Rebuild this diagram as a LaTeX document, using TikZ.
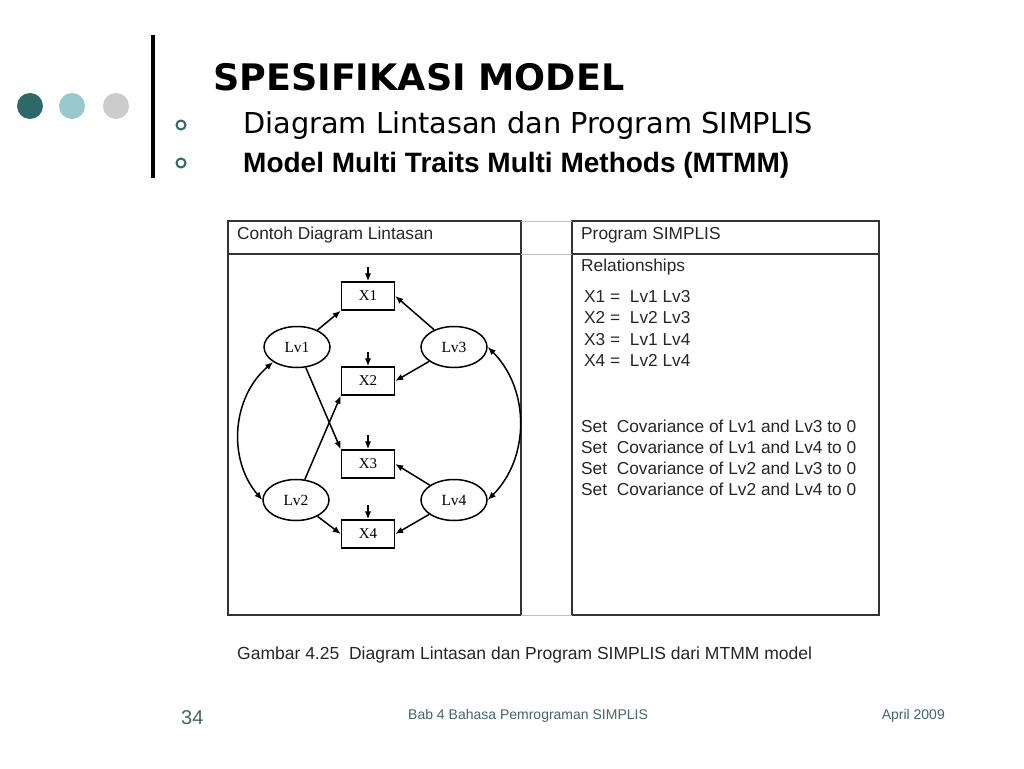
\documentclass[tikz,border=0pt]{standalone}
\usepackage{fontspec}
\setmainfont{Liberation Sans}
\newfontfamily\headfont{DejaVu Sans}
\newfontfamily\pathfont{Liberation Serif}
\usetikzlibrary{positioning, shapes.geometric, arrows.meta}
\definecolor{darkteal}{RGB}{47,104,104}
\definecolor{lightteal}{RGB}{150,200,204}
\definecolor{dotgray}{RGB}{204,204,204}
\definecolor{footgray}{RGB}{72,100,100}

\begin{document}
\begin{tikzpicture}[x=1pt, y=-1pt, >={Latex[length=8pt,width=6.5pt]},
  lat/.style={ellipse, draw, line width=1.5pt, minimum width=66pt, minimum height=41pt, inner sep=0pt, font=\pathfont\fontsize{15.5}{17}\selectfont},
  obs/.style={rectangle, draw, line width=1.5pt, minimum width=53pt, minimum height=28pt, inner sep=0pt, font=\pathfont\fontsize{15}{17}\selectfont},
  txt/.style={anchor=base west, inner sep=0pt, text=black!85, font=\fontsize{17.3}{20}\selectfont},
  panel/.style={draw=black!80, line width=1.4pt}]
  \useasboundingbox (0,0) rectangle (1024,768);
  \fill[white] (0,0) rectangle (1024,768);

  % slide decoration
  \fill[darkteal] (30,106) circle (13pt);
  \fill[lightteal] (72,106) circle (13pt);
  \fill[dotgray] (116,106) circle (13pt);
  \draw[line width=4pt] (153,35) -- (153,178);
  \draw[darkteal, line width=2pt] (181,125) circle (4.5pt);
  \draw[darkteal, line width=2pt] (181,163) circle (4.5pt);

  \node[anchor=base west, inner sep=0pt, font=\headfont\bfseries\fontsize{36.5}{40}\selectfont] (judul) at (213,90) {SPESIFIKASI MODEL};
  \node[anchor=base west, inner sep=0pt, font=\headfont\fontsize{28.8}{32}\selectfont] (sub1) at (243,133) {Diagram Lintasan dan Program SIMPLIS};
  \node[anchor=base west, inner sep=0pt, font=\bfseries\fontsize{28}{32}\selectfont] (sub2) at (243,172) {Model Multi Traits Multi Methods (MTMM)};

  % panels
  \draw[panel] (228,221) rectangle (521,615);
  \draw[panel] (228,254) -- (521,254);
  \draw[panel] (572,221) rectangle (879,615);
  \draw[panel] (572,254) -- (879,254);
  \draw[black!25, line width=1pt] (521,221) -- (572,221) (521,254) -- (572,254) (521,615) -- (572,615);

  \node[txt] (kepala1) at (237,239) {Contoh Diagram Lintasan};
  \node[txt] (kepala2) at (581,239) {Program SIMPLIS};

  % path diagram
  \node[obs] (x1) at (368,296) {X1};
  \node[obs] (x2) at (368,381) {X2};
  \node[obs] (x3) at (368,464) {X3};
  \node[obs] (x4) at (368,534) {X4};
  \node[lat] (lv1) at (297,347) {Lv1};
  \node[lat] (lv3) at (454,347) {Lv3};
  \node[lat] (lv2) at (296,500) {Lv2};
  \node[lat] (lv4) at (454,500) {Lv4};

  \foreach \x in {x1,x2,x3,x4}{
    \coordinate[above=14pt of \x] (e\x);
    \draw[->, line width=1.5pt] (e\x) -- (\x);
  }

  \path[line width=1.5pt]
        (lv1) edge[->] (x1.south west)
              edge[->] (x3.north west)
              edge[<->, bend right=45] (lv2.west)
        (lv3) edge[->] (x1.east)
              edge[->] (x2.east)
        (lv3.east) edge[<->, bend left=45] (lv4.east)
        (lv2) edge[->] (x2.south west)
              edge[->] (x4.west)
        (lv4) edge[->] (x3.east)
              edge[->] (x4.east);

  % SIMPLIS program
  \node[txt] (rel) at (581,271) {Relationships};
  \foreach \i/\a/\b [count=\n] in {1/1/3, 2/2/3, 3/1/4, 4/2/4}
    \node[txt] (r\i) at (584,280.4+21.6*\n) {X\i\ = \ Lv\a\ Lv\b};
  \foreach \a/\b [count=\n] in {1/3, 1/4, 2/3, 2/4}
    \node[txt] (s\n) at (581,410.7+21.3*\n) {Set\ \ Covariance of Lv\a\ and Lv\b\ to 0};

  \node[txt, font=\fontsize{17.5}{20}\selectfont] (gambar) at (237,659) {Gambar 4.25\ \ Diagram Lintasan dan Program SIMPLIS dari MTMM model};

  % footer
  \node[anchor=base west, inner sep=0pt, text=footgray, font=\fontsize{20}{22}\selectfont] (hal) at (181,724) {34};
  \node[anchor=base west, inner sep=0pt, text=footgray, font=\fontsize{14}{16}\selectfont] (bab) at (408,719) {Bab 4 Bahasa Pemrograman SIMPLIS};
  \node[anchor=base east, inner sep=0pt, text=footgray, font=\fontsize{14}{16}\selectfont] (tgl) at (945,719) {April 2009};
\end{tikzpicture}
\end{document}
